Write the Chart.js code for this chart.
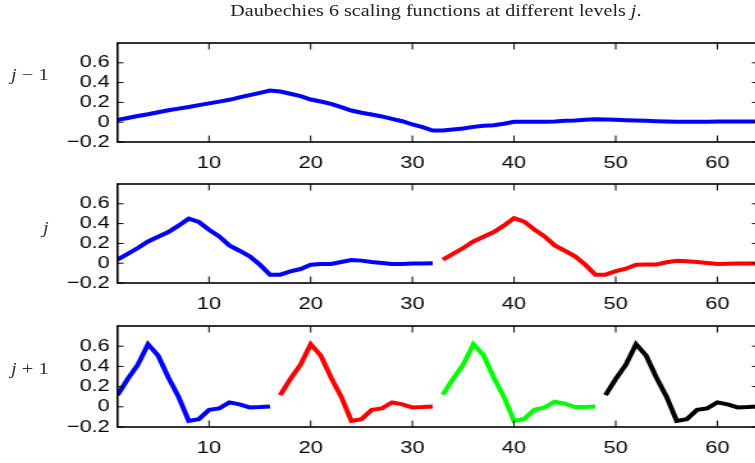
<!DOCTYPE html>
<html>
<head>
<meta charset="utf-8">
<script src="https://cdn.jsdelivr.net/npm/chart.js"></script>
<style>
    html, body { margin: 0; padding: 0; background: #fff; }
    body { width: 755px; height: 463px; overflow: hidden; position: relative; }
    /* the reference figure is stretched sideways, so the whole page is too */
    #stage { position: absolute; left: 0; top: 0; width: 600px; height: 463px;
             transform: scaleX(1.28); transform-origin: 0 0; }
    .panel { position: absolute; left: 0; }
    .title { position: absolute; left: 0; width: 681px; top: 2px; text-align: center;
             font-family: "Liberation Serif", serif; font-size: 15.7px; color: #222; }
    .lvl { position: absolute; right: 562px; font-family: "Liberation Serif", serif;
           font-size: 16px; line-height: 16px; color: #333; white-space: nowrap; }
</style>
</head>
<body>
<div id="stage">
    <div class="title">Daubechies 6 scaling functions at different levels <i>j</i>.</div>
    <div class="lvl" style="top:67px"><i>j</i> − 1</div>
    <div class="lvl" style="top:220px"><i>j</i></div>
    <div class="lvl" style="top:361px"><i>j</i> + 1</div>
    <div class="panel" style="top:33px"><canvas id="c1" width="600" height="142"></canvas></div>
    <div class="panel" style="top:174px"><canvas id="c2" width="600" height="142"></canvas></div>
    <div class="panel" style="top:316px"><canvas id="c3" width="600" height="147"></canvas></div>
</div>
<script>
// sample index along the x axis
const samples = [1, 2, 3, 4, 5, 6, 7, 8, 9, 10, 11, 12, 13, 14, 15, 16,
    17, 18, 19, 20, 21, 22, 23, 24, 25, 26, 27, 28, 29, 30, 31, 32,
    33, 34, 35, 36, 37, 38, 39, 40, 41, 42, 43, 44, 45, 46, 47, 48,
    49, 50, 51, 52, 53, 54, 55, 56, 57, 58, 59, 60, 61, 62, 63, 64];

const xTicks = [10, 20, 30, 40, 50, 60];
const yTicks = [-0.2, 0, 0.2, 0.4, 0.6];

// level j-1 : one scaling function over 64 samples
const levelJm1 = [0.024, 0.043, 0.062, 0.08, 0.10, 0.12, 0.137, 0.153, 0.172, 0.19, 0.208, 0.226, 0.25, 0.273, 0.297, 0.32,
    0.31, 0.287, 0.263, 0.229, 0.209, 0.186, 0.152, 0.118, 0.095, 0.078, 0.058, 0.034, 0.01, -0.023, -0.05, -0.084,
    -0.084, -0.074, -0.064, -0.047, -0.037, -0.03, -0.016, 0.004, 0.004, 0.004, 0.004, 0.007, 0.014, 0.017, 0.024, 0.03,
    0.027, 0.024, 0.02, 0.017, 0.014, 0.01, 0.007, 0.004, 0.004, 0.004, 0.005, 0.007, 0.007, 0.007, 0.007, 0.007];

// level j : two translates of 32 samples
const levelJBlue = [0.035, 0.093, 0.153, 0.22, 0.268, 0.315, 0.379, 0.45, 0.416, 0.338, 0.271, 0.18, 0.126, 0.069, -0.015, -0.116,
    -0.116, -0.083, -0.059, -0.015, -0.008, -0.008, 0.012, 0.032, 0.026, 0.012, 0.002, -0.008, -0.008, -0.003, -0.002, -0.001];
const levelJRed = [0.035, 0.093, 0.153, 0.22, 0.268, 0.315, 0.379, 0.456, 0.42, 0.34, 0.27, 0.18, 0.126, 0.07, -0.015, -0.116,
    -0.116, -0.08, -0.056, -0.015, -0.012, -0.012, 0.01, 0.025, 0.02, 0.012, 0.002, -0.007, -0.006, -0.004, -0.003, -0.003];

// level j+1 : four translates of 16 samples
const levelJp1Blue = [0.116, 0.275, 0.417, 0.62, 0.506, 0.29, 0.10, -0.139, -0.122, -0.03, -0.016, 0.044, 0.024, -0.006, -0.003, 0.004];
const levelJp1Red = [0.116, 0.275, 0.417, 0.62, 0.506, 0.29, 0.10, -0.139, -0.122, -0.03, -0.016, 0.044, 0.024, -0.006, -0.003, 0.004];
const levelJp1Green = [0.12, 0.275, 0.417, 0.62, 0.51, 0.29, 0.10, -0.14, -0.12, -0.03, -0.006, 0.05, 0.03, -0.003, -0.002, 0.004];
const levelJp1Black = [0.116, 0.275, 0.417, 0.62, 0.506, 0.29, 0.10, -0.139, -0.122, -0.03, -0.016, 0.044, 0.024, -0.006, -0.003, 0.004];

// pair a run of values with the sample indices starting at "first"
function toPoints(values, first) {
    return values.map(function (v, i) {
        return { x: samples[first - 1 + i], y: v };
    });
}

function series(values, first, color) {
    return {
        data: toPoints(values, first),
        borderColor: color,
        borderWidth: 4,
        pointRadius: 0,
        fill: false,
        tension: 0
    };
}

// MATLAB style box with inward ticks on all four sides
const boxPlugin = {
    id: 'box',
    afterDatasetsDraw: function (chart) {
        var ctx = chart.ctx;
        var a = chart.chartArea;
        var xs = chart.scales.x;
        var ys = chart.scales.y;
        ctx.save();
        ctx.strokeStyle = '#000';
        ctx.lineWidth = 1;
        ctx.beginPath();
        xs.ticks.forEach(function (t) {
            var p = xs.getPixelForValue(t.value);
            ctx.moveTo(p, a.bottom);
            ctx.lineTo(p, a.bottom - 6.5);
            ctx.moveTo(p, a.top);
            ctx.lineTo(p, a.top + 6.5);
        });
        ys.ticks.forEach(function (t) {
            var p = ys.getPixelForValue(t.value);
            ctx.moveTo(a.left, p);
            ctx.lineTo(a.left + 4.7, p);
            ctx.moveTo(a.right, p);
            ctx.lineTo(a.right - 4.7, p);
        });
        ctx.stroke();
        ctx.lineWidth = 1.6;
        ctx.strokeRect(a.left, a.top, a.right - a.left, a.bottom - a.top);
        ctx.restore();
    }
};

function makePanel(id, datasets, xHeight) {
    var tickFont = { family: 'Liberation Sans, Arial, sans-serif', size: 17 };
    return new Chart(document.getElementById(id).getContext('2d'), {
        type: 'line',
        data: { datasets: datasets },
        plugins: [boxPlugin],
        options: {
            responsive: false,
            animation: false,
            layout: { padding: { top: 10, right: 7.8, left: 0, bottom: 0 } },
            plugins: { legend: { display: false }, tooltip: { enabled: false } },
            scales: {
                x: {
                    type: 'linear',
                    min: 1,
                    max: 64,
                    afterBuildTicks: function (s) {
                        s.ticks = xTicks.map(function (v) { return { value: v }; });
                    },
                    afterFit: function (s) {
                        s.height = xHeight;
                        s.paddingLeft = 0;
                        s.paddingRight = 0;
                    },
                    ticks: { font: tickFont, color: '#000', padding: 11, maxRotation: 0, autoSkip: false },
                    grid: { display: false, drawTicks: false, tickLength: 0 },
                    border: { display: false }
                },
                y: {
                    min: -0.2,
                    max: 0.8,
                    afterBuildTicks: function (s) {
                        s.ticks = yTicks.map(function (v) { return { value: v }; });
                    },
                    afterFit: function (s) {
                        s.width = 91.8;
                        s.paddingTop = 0;
                        s.paddingBottom = 0;
                    },
                    ticks: {
                        font: tickFont,
                        color: '#000',
                        padding: 6,
                        autoSkip: false,
                        callback: function (v) {
                            var r = Math.round(v * 10) / 10;
                            if (r === 0) return '0';
                            return r < 0 ? '\u2212' + String(-r) : String(r);
                        }
                    },
                    grid: { display: false, drawTicks: false, tickLength: 0 },
                    border: { display: false }
                }
            }
        }
    });
}

makePanel('c1', [series(levelJm1, 1, '#0000ff')], 33);
makePanel('c2', [series(levelJBlue, 1, '#0000ff'), series(levelJRed, 33, '#ff0000')], 33);
makePanel('c3', [
    series(levelJp1Blue, 1, '#0000ff'),
    series(levelJp1Red, 17, '#ff0000'),
    series(levelJp1Green, 33, '#00ff00'),
    series(levelJp1Black, 49, '#000000')
], 36);
</script>
</body>
</html>
